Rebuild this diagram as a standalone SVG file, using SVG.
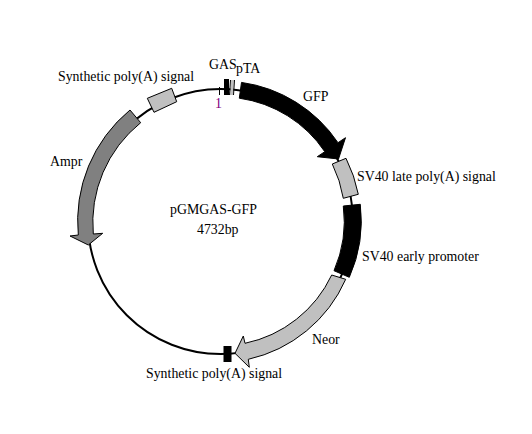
<svg xmlns="http://www.w3.org/2000/svg" width="532" height="434" viewBox="0 0 532 434">
<style>
text{font-family:"Liberation Serif","Times New Roman",serif;font-size:13.85px;fill:#000}
.s{stroke:#000;stroke-width:1}
.k{fill:#000}.g{fill:#c0c0c0}.d{fill:#808080}
</style>
<rect width="532" height="434" fill="#fff"/>
<g id="connectors"><circle cx="220.5" cy="221.5" r="132.5" fill="none" stroke="#000" stroke-width="2"/></g>
<g id="gfp"><path class="k s" d="M241.5 82.4A140 140 0 0 1 338 142.7L345.5 137.7L338.5 159L317.3 156.7L324.8 151.7A124 124 0 0 0 239.3 98.2Z"/><text x="303" y="100.5">GFP</text></g>
<g id="sv40-late"><path class="g s" d="M332.3 164L346 158.3A139 139 0 0 1 358.3 194.3L343.3 198.3A124 124 0 0 0 332.3 164Z"/><text x="357" y="181">SV40 late poly(A) signal</text></g>
<g id="sv40-early"><path class="k s" d="M343.3 206L360.3 204.3A139 139 0 0 1 349.3 277.3L334 270.7A123 123 0 0 0 343.3 206Z"/><text x="362" y="261">SV40 early promoter</text></g>
<g id="neor"><path class="g s" d="M345.7 279.3L331.7 275A124 124 0 0 1 245 343.3L243.3 336L235 353.3L249.3 367.3L248.3 359.3A140 140 0 0 0 345.7 279.3Z"/><text x="312" y="344">Neor</text></g>
<g id="poly-bottom"><rect class="k" x="223.5" y="346" width="8" height="16"/><text x="146" y="378">Synthetic poly(A) signal</text></g>
<g id="ampr"><path class="d s" d="M130 110L140.7 122.7A128 128 0 0 0 93.3 234L102.7 233.3L88.3 245L70 236L78.3 235A144 144 0 0 1 130 110Z"/><text x="50" y="166">Ampr</text></g>
<g id="poly-top"><path class="g s" d="M147.3 98.3L171.7 88.3L176.7 101.7L154 112.3Z"/><text x="58" y="81">Synthetic poly(A) signal</text></g>
<g id="gas"><rect class="k" x="224" y="79" width="5" height="16"/><text x="209" y="68.5">GAS</text></g>
<g id="pta"><path class="g" d="M231 80L234 80L233 95L230 95Z"/><path class="s" fill="none" d="M230.5 80L229.5 95M234.5 80L233.5 95"/><text x="236" y="73">pTA</text></g>
<g id="origin"><path d="M219.5 87V95" class="s" fill="none"/><text x="215" y="108" style="fill:#800080">1</text></g>
<g id="title"><text x="170" y="214">pGMGAS-GFP</text><text x="197" y="234">4732bp</text></g>
</svg>
